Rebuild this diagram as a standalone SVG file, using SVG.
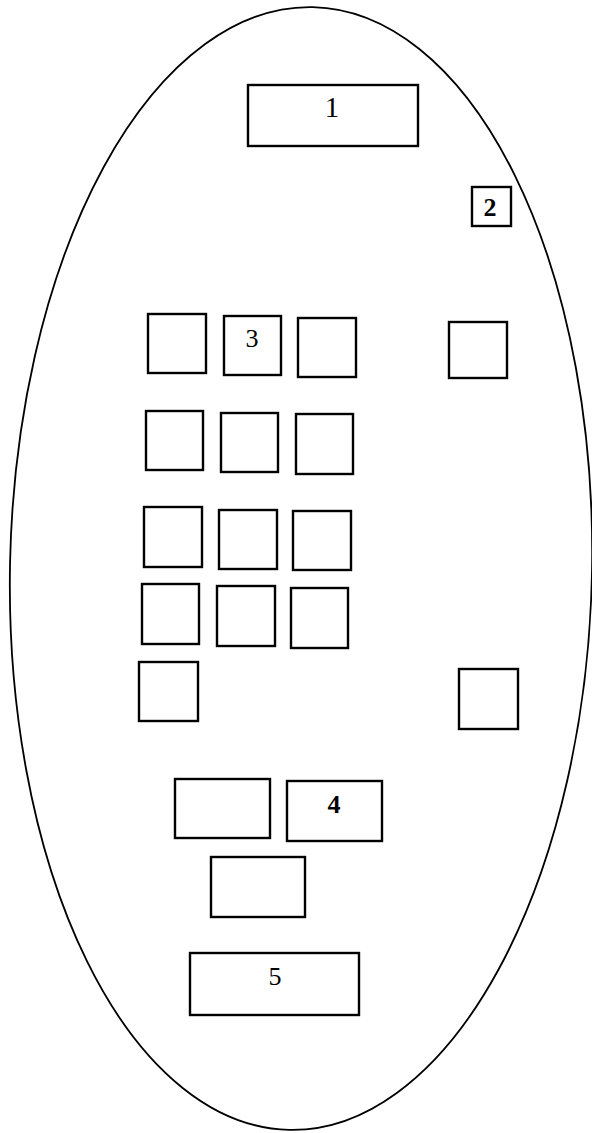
<svg xmlns="http://www.w3.org/2000/svg" width="592" height="1133" viewBox="0 0 592 1133">
<style>
.b{fill:none;stroke:#000;stroke-width:2.4}
.t{font-family:"Liberation Serif","Times New Roman",serif;font-size:26px;fill:#000;text-anchor:middle}
</style>
<rect width="592" height="1133" fill="#fff"/>
<g id="outline"><ellipse cx="301" cy="568.5" rx="291" ry="561.5" fill="none" stroke="#000" stroke-width="1.8" transform="rotate(1.2 301 568.5)"/></g>
<g id="connectors"></g>
<g id="n1"><rect class="b" x="248" y="85" width="170" height="61"/><text class="t" x="332" y="117" style="font-size:29px">1</text></g>
<g id="n2"><rect class="b" x="472" y="187" width="39" height="39"/><text class="t" x="490" y="216" font-weight="bold">2</text></g>
<g id="r1a"><rect class="b" x="148" y="314" width="58" height="59"/></g>
<g id="n3"><rect class="b" x="224" y="316" width="57" height="59"/><text class="t" x="252" y="347">3</text></g>
<g id="r1c"><rect class="b" x="298" y="318" width="58" height="59"/></g>
<g id="r1d"><rect class="b" x="449" y="322" width="58" height="56"/></g>
<g id="r2a"><rect class="b" x="146" y="411" width="57" height="59"/></g>
<g id="r2b"><rect class="b" x="221" y="413" width="57" height="59"/></g>
<g id="r2c"><rect class="b" x="296" y="414" width="57" height="60"/></g>
<g id="r3a"><rect class="b" x="144" y="507" width="58" height="60"/></g>
<g id="r3b"><rect class="b" x="219" y="510" width="58" height="59"/></g>
<g id="r3c"><rect class="b" x="293" y="511" width="58" height="59"/></g>
<g id="r4a"><rect class="b" x="142" y="584" width="57" height="60"/></g>
<g id="r4b"><rect class="b" x="217" y="586" width="58" height="60"/></g>
<g id="r4c"><rect class="b" x="291" y="588" width="57" height="60"/></g>
<g id="r5a"><rect class="b" x="139" y="662" width="59" height="59"/></g>
<g id="r5b"><rect class="b" x="459" y="669" width="59" height="60"/></g>
<g id="r6a"><rect class="b" x="175" y="779" width="95" height="59"/></g>
<g id="n4"><rect class="b" x="287" y="781" width="95" height="60"/><text class="t" x="334" y="813" font-weight="bold">4</text></g>
<g id="r7"><rect class="b" x="211" y="857" width="94" height="60"/></g>
<g id="n5"><rect class="b" x="190" y="953" width="169" height="62"/><text class="t" x="275" y="985">5</text></g>
</svg>
